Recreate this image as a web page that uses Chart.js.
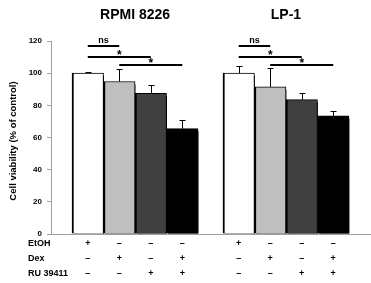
<!DOCTYPE html>
<html lang="en">
<head>
<meta charset="UTF-8">
<title>Cell viability</title>
<script src="https://cdn.jsdelivr.net/npm/chart.js"></script>
<style>
  body, html { margin: 0; padding: 0; background: #fff; }
  #wrap { width: 371px; height: 283px; }
</style>
</head>
<body>
<div id="wrap"><canvas id="chart"></canvas></div>
<script>
// values
const cellLines = ['RPMI 8226', 'LP-1'];
const treatments = ['EtOH', 'Dex', 'RU 39411'];
const etohSigns = ['+', '–', '–', '–'];
const dexSigns = ['–', '+', '–', '+'];
const ruSigns = ['–', '–', '+', '+'];
const rpmiMeans = [100, 94.8, 87.5, 65.5];
const rpmiErrors = [1, 7.5, 5, 5.5];
const lp1Means = [100, 91.5, 83.5, 73.5];
const lp1Errors = [4.5, 12, 4, 3];
const barColors = ['#ffffff', '#bfbfbf', '#404040', '#000000'];
const yTicks = [0, 20, 40, 60, 80, 100, 120];
// [from bar, to bar, label] and the height (% of control) of each bracket line
const comparisons = [[0, 1, 'ns'], [0, 2, '*'], [1, 3, '*']];
const comparisonLevels = [117, 110, 105];

const font = '"Liberation Sans", Arial, sans-serif';
const groupStep = 4.79;   // distance between first bars of the two groups, in bar widths
const means = [rpmiMeans, lp1Means];
const errors = [rpmiErrors, lp1Errors];
const signRows = [etohSigns, dexSigns, ruSigns];

// build bar points for both groups
const points = [], colors = [];
means.forEach((m, g) => m.forEach((v, i) => {
    points.push({ x: g * groupStep + i, y: v });
    colors.push(barColors[i]);
}));

const extras = {
    id: 'extras',
    beforeDatasetsDraw(chart) {
        const ctx = chart.ctx;
        ctx.save();
        ctx.shadowColor = '#000';
        ctx.shadowOffsetX = 2;
        ctx.shadowOffsetY = 3;
        ctx.shadowBlur = 0;
    },
    afterDatasetsDraw(chart) {
        const ctx = chart.ctx;
        ctx.restore();
        const xs = chart.scales.x, ys = chart.scales.y;
        ctx.save();
        ctx.strokeStyle = '#000';
        ctx.lineWidth = 1;
        // error bars (upper only)
        means.forEach((m, g) => m.forEach((v, i) => {
            const px = Math.round(xs.getPixelForValue(g * groupStep + i)) + 0.5;
            const y0 = ys.getPixelForValue(v);
            const y1 = Math.round(ys.getPixelForValue(v + errors[g][i])) + 0.5;
            ctx.beginPath();
            ctx.moveTo(px, y0);
            ctx.lineTo(px, y1);
            ctx.moveTo(px - 3, y1);
            ctx.lineTo(px + 3, y1);
            ctx.stroke();
        }));
        // significance brackets
        ctx.lineWidth = 2;
        ctx.fillStyle = '#000';
        ctx.textAlign = 'center';
        ctx.textBaseline = 'alphabetic';
        cellLines.forEach((name, g) => {
            comparisons.forEach(([a, b, label], k) => {
                const xa = xs.getPixelForValue(g * groupStep + a);
                const xb = xs.getPixelForValue(g * groupStep + b);
                const yl = Math.round(ys.getPixelForValue(comparisonLevels[k]));
                ctx.beginPath();
                ctx.moveTo(xa, yl);
                ctx.lineTo(xb, yl);
                ctx.stroke();
                if (label === '*') {
                    ctx.font = 'bold 12px ' + font;
                    ctx.fillText(label, (xa + xb) / 2, yl + 2);
                } else {
                    ctx.font = 'bold 9px ' + font;
                    ctx.fillText(label, (xa + xb) / 2, yl - 3);
                }
            });
        });
        ctx.restore();
    },
    afterDraw(chart) {
        const ctx = chart.ctx;
        const xs = chart.scales.x, area = chart.chartArea;
        ctx.save();
        ctx.fillStyle = '#000';
        ctx.textBaseline = 'middle';
        // cell line titles
        ctx.font = 'bold 14px ' + font;
        ctx.textAlign = 'center';
        cellLines.forEach((name, g) => {
            ctx.fillText(name, xs.getPixelForValue(g * groupStep + 1.5), 15);
        });
        // treatment table
        ctx.font = 'bold 9px ' + font;
        treatments.forEach((t, r) => {
            const ty = area.bottom + 10 + r * 15;
            ctx.textAlign = 'left';
            ctx.fillText(t, 28, ty);
            ctx.textAlign = 'center';
            cellLines.forEach((name, g) => {
                signRows[r].forEach((s, i) => {
                    ctx.fillText(s, xs.getPixelForValue(g * groupStep + i), ty);
                });
            });
        });
        // y axis title
        ctx.font = 'bold 9.5px ' + font;
        ctx.translate(13, 141);
        ctx.rotate(-Math.PI / 2);
        ctx.textAlign = 'center';
        ctx.fillText('Cell viability (% of control)', 0, 0);
        ctx.restore();
    }
};

new Chart(document.getElementById('chart'), {
    type: 'bar',
    data: {
        datasets: [{
            data: points,
            backgroundColor: colors,
            borderColor: '#000',
            borderWidth: { left: 2, top: 1, right: 1, bottom: 0 },
            barPercentage: 1,
            categoryPercentage: 1
        }]
    },
    options: {
        responsive: true,
        maintainAspectRatio: false,
        animation: false,
        layout: { padding: { top: 41, right: 1, left: 0, bottom: 0 } },
        plugins: { legend: { display: false }, tooltip: { enabled: false } },
        scales: {
            x: {
                type: 'linear',
                offset: false,
                min: -1.167,
                max: 3 + groupStep + 0.5 + 0.667,
                ticks: { display: false },
                grid: { display: false, offset: false },
                border: { color: '#a0a0a0', width: 1 },
                afterFit: s => { s.height = 49; }
            },
            y: {
                min: 0,
                max: 120,
                afterBuildTicks: s => { s.ticks = yTicks.map(v => ({ value: v })); },
                ticks: {
                    color: '#000',
                    padding: 5,
                    font: { family: font, size: 8, weight: 'bold' }
                },
                grid: { drawOnChartArea: false, tickLength: 4, color: '#a0a0a0' },
                border: { color: '#a0a0a0', width: 1 },
                afterFit: s => { s.width = 51; }
            }
        }
    },
    plugins: [extras]
});
</script>
</body>
</html>
